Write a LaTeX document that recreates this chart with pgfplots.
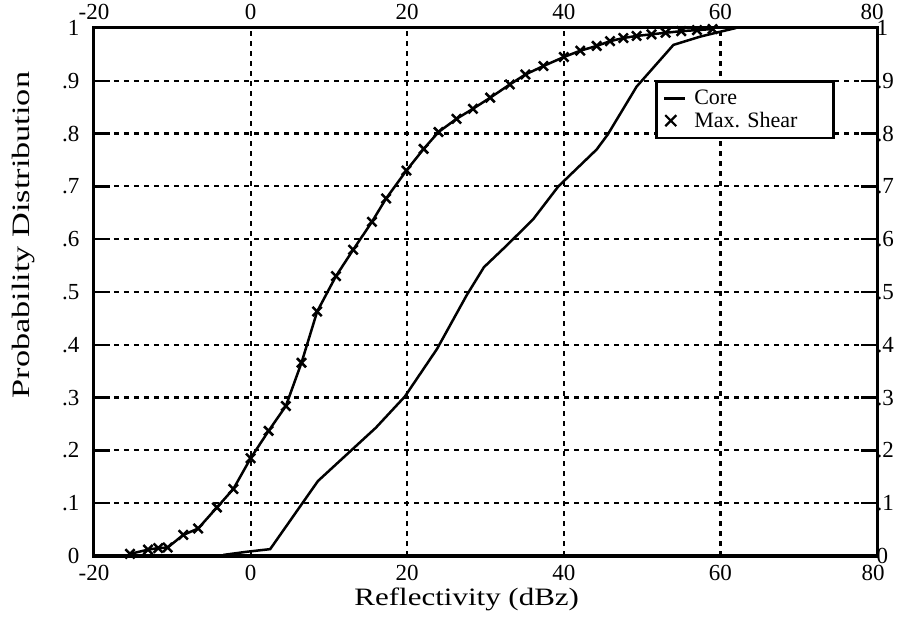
\documentclass[border=0pt]{standalone}
\usepackage{pgfplots}
\pgfplotsset{compat=1.18}
\usepackage{fontspec}
\setmainfont{Liberation Serif}
\usepackage{graphicx}

\pgfplotstableread{
x y
-3.5 0.002
-0.5 0.008
2.5 0.013
8.6 0.142
16.0 0.243
19.7 0.302
23.8 0.392
27.6 0.494
29.8 0.547
32.7 0.588
36.1 0.638
39.3 0.700
44.2 0.770
45.6 0.798
49.3 0.889
54.0 0.968
57.5 0.984
60.0 0.993
62.0 1.000
}\coretable

\pgfplotstableread{
x y
-15.4 0.004
-13.1 0.012
-11.8 0.015
-10.6 0.016
-8.6 0.040
-6.7 0.052
-4.3 0.092
-2.2 0.127
0.0 0.185
2.3 0.237
4.5 0.284
6.5 0.366
8.5 0.463
10.9 0.530
13.1 0.580
15.5 0.633
17.3 0.677
19.9 0.730
22.1 0.771
24.0 0.803
26.3 0.828
28.4 0.847
30.6 0.868
33.1 0.893
35.1 0.912
37.4 0.928
40.0 0.945
42.1 0.957
44.2 0.966
45.9 0.975
47.6 0.981
49.3 0.985
51.2 0.988
53.0 0.991
55.0 0.994
57.0 0.996
59.0 0.998
}\sheartable

\begin{document}
\begin{tikzpicture}
\useasboundingbox (-94pt,-68pt) rectangle (814pt,556pt);
% overlay axis for top and right tick labels
\begin{axis}[
  at={(0,0)}, anchor=south west,
  width=783pt, height=528pt, scale only axis,
  xmin=-20, xmax=80, ymin=0, ymax=1,
  xtick={-20,0,20,40,60,80},
  xticklabels={-20,0,20,40,60,{\kern-10pt 80}},
  ytick={0,0.1,0.2,0.3,0.4,0.5,0.6,0.7,0.8,0.9,1},
  yticklabels={0,.1,.2,.3,.4,.5,.6,.7,.8,.9,1},
  xticklabel pos=upper, yticklabel pos=right,
  xtick style={draw=none}, ytick style={draw=none},
  /pgf/number format/assume math mode=true,
  ticklabel style={font=\fontsize{23}{25}\selectfont},
  xticklabel style={yshift=5pt},
  yticklabel style={xshift=-4pt},
  axis line style={line width=3pt},
]
\end{axis}
\begin{axis}[
  at={(0,0)}, anchor=south west,
  width=783pt, height=528pt, scale only axis,
  xmin=-20, xmax=80, ymin=0, ymax=1,
  clip=false,
  xtick={-20,0,20,40,60,80},
  xticklabels={-20,0,20,40,60,{\kern-8pt 80}},
  ytick={0,0.1,0.2,0.3,0.4,0.5,0.6,0.7,0.8,0.9,1},
  yticklabels={0,.1,.2,.3,.4,.5,.6,.7,.8,.9,1},
  xticklabel pos=lower, yticklabel pos=left,
  ytick pos=both, tick align=inside,
  major tick length=16pt,
  xtick style={draw=none},
  ytick style={line width=2.5pt, black},
  /pgf/number format/assume math mode=true,
  ticklabel style={font=\fontsize{23}{25}\selectfont},
  xticklabel style={yshift=-6pt},
  yticklabel style={xshift=-11pt},
  axis line style={line width=3pt},
  grid=major,
  major grid style={black, line width=2.2pt, dash pattern=on 5pt off 5pt},
  xlabel={\scalebox{1.24}[1]{Reflectivity (dBz)}},
  ylabel={\scalebox{1.37}[1]{Probability Distribution}},
  xlabel style={font=\fontsize{25}{28}\selectfont, at={(axis description cs:0.476,0)}, anchor=north, yshift=-28pt},
  ylabel style={font=\fontsize{25}{28}\selectfont, at={(axis description cs:0,0.608)}, anchor=south, yshift=56pt},
  legend cell align=left,
  legend style={at={(rel axis cs:0.7165,0.9015)}, anchor=north west,
    draw=black, line width=2.5pt, fill=white, inner xsep=4pt, inner ysep=7pt,
    font=\fontsize{22}{24}\selectfont, row sep=2pt},
]
\addplot[black, line width=2.5pt, no marks,
  legend image code/.code={\draw[line width=2.5pt] (4pt,0pt) -- (25pt,0pt); \path[draw=none] (0pt,0pt) -- (32pt,0pt);}]
  table[x=x,y=y] {\coretable};
\addlegendentry{Core}
\addplot[black, line width=2.5pt, mark=x, mark size=6.5pt,
  mark options={line width=2.5pt, solid},
  legend image code/.code={\draw[line width=2.2pt] (5pt,-5.5pt) -- (16pt,5.5pt) (5pt,5.5pt) -- (16pt,-5.5pt); \path[draw=none] (0pt,0pt) -- (32pt,0pt);}]
  table[x=x,y=y] {\sheartable};
\addlegendentry{Max. Shear\hspace*{30pt}}
\end{axis}
\end{tikzpicture}
\end{document}
